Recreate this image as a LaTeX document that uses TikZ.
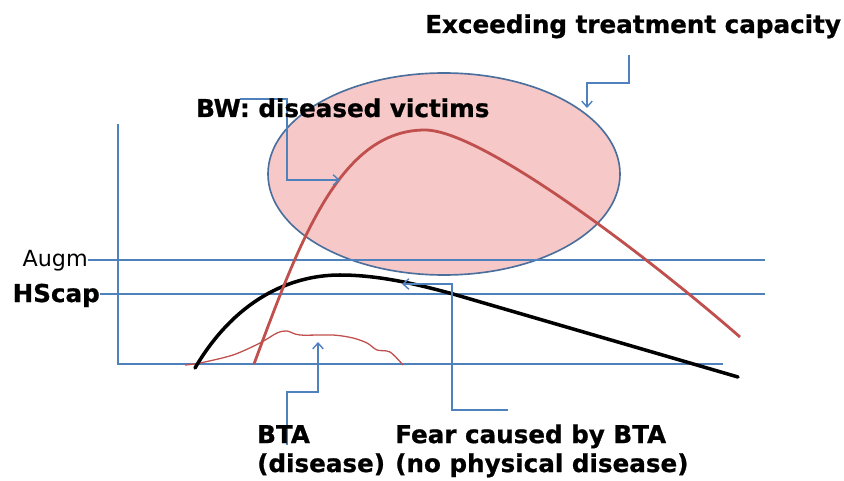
\documentclass[tikz,border=0pt]{standalone}
\usepackage{fontspec}
\setmainfont{DejaVu Sans}
\newfontfamily\heavyfont{DejaVu Sans Bold}[FakeBold=0.8]
\usetikzlibrary{arrows.meta}
\definecolor{lineblue}{HTML}{4F81BD}
\definecolor{edgeblue}{HTML}{4A6F9C}
\definecolor{curvered}{HTML}{C0504D}
\definecolor{zonepink}{HTML}{F7C8C8}

\begin{document}
\begin{tikzpicture}[x=0.03cm, y=-0.03cm,
  gridline/.style={draw=lineblue, line width=1.4pt},
  callout/.style={draw=lineblue, line width=1.2pt, -{Straight Barb[length=5pt,width=9pt]}},
  lbl/.style={font=\fontsize{21pt}{24.7pt}\selectfont\heavyfont, inner sep=0pt, align=left}]
\useasboundingbox (0,0) rectangle (844,481);
% capacity zone
\draw[fill=zonepink, draw=edgeblue, line width=1.4pt] (444,174) ellipse [x radius=176, y radius=101];
% axes and capacity levels
\draw[gridline] (118,124) -- (118,364) -- (723,364);
\draw[gridline] (88,260) -- (765,260);
\draw[gridline] (100,294) -- (765,294);
% curves
\draw[curvered, line width=1.1pt] plot[smooth] coordinates {(185,365) (200,363) (233,355) (260,343) (277,333) (287,331) (300,335) (333,335) (353,338) (367,343) (377,350) (390,352) (403,365)};
\draw[black, line width=3pt, line cap=round] (195,368) .. controls (235,300) and (290,275) .. (340,275) .. controls (380,275) and (420,285) .. (453,294) -- (738,377);
\draw[curvered, line width=2.4pt] (254,364) .. controls (300,240) and (340,130) .. (425,130) .. controls (480,130) and (640,250) .. (740,337);
% connector ends
\coordinate (capstart) at (629,55);
\coordinate (captip) at (587,108);
\coordinate (bwstart) at (240,99);
\coordinate (bwtip) at (340,180);
\coordinate (btastart) at (287,445);
\coordinate (btatip) at (318,342);
\coordinate (fearstart) at (508,410);
\coordinate (feartip) at (402,284);
% callouts
\draw[callout] (capstart) -- ++(0,28) -| (captip);
\draw[callout] (bwstart) -| ++(47,81) -- (bwtip);
\draw[callout] (btastart) -- ++(0,-53) -| (btatip);
\draw[callout] (fearstart) -| ++(-56,-126) -- (feartip);
% labels
\node[lbl, anchor=base west] (exceed) at (425,33) {Exceeding treatment capacity};
\node[lbl, anchor=base west] (bw) at (196,117) {BW: diseased victims};
\node[inner sep=0pt, anchor=base east, font=\fontsize{19pt}{23pt}\selectfont] (augm) at (88,266) {Augm};
\node[lbl, anchor=base east] (hscap) at (100,302) {HScap};
\node[lbl, anchor=base west] (bta) at (257,472) {BTA\\(disease)};
\node[lbl, anchor=base west] (fear) at (395,472) {Fear caused by BTA\\(no physical disease)};
\end{tikzpicture}
\end{document}
